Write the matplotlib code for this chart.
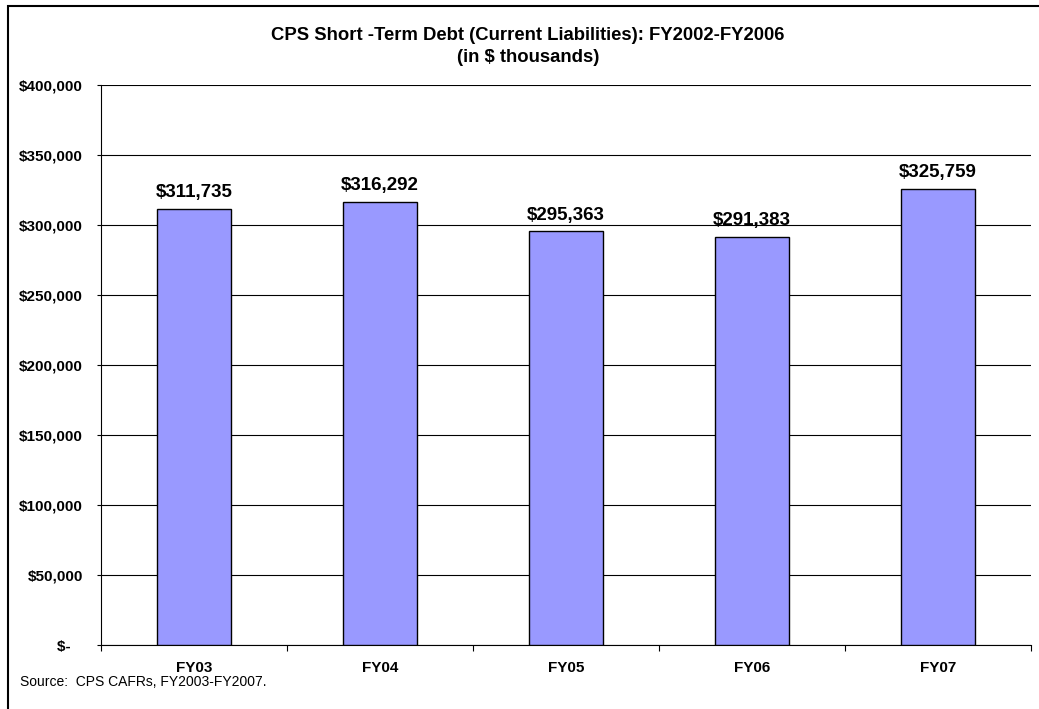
import matplotlib.pyplot as plt
from matplotlib.patches import Rectangle
from matplotlib.ticker import FuncFormatter

plt.rcParams["font.family"] = ["Liberation Sans", "DejaVu Sans"]

years = ["FY03", "FY04", "FY05", "FY06", "FY07"]
debt = [311735, 316292, 295363, 291383, 325759]
yticks = [0, 50000, 100000, 150000, 200000, 250000, 300000, 350000, 400000]

W, H = 1039, 709
fig = plt.figure(figsize=(W / 100, H / 100), dpi=100)
ax = fig.add_axes([101 / W, 1 - 645 / H, (1031 - 101) / W, (645 - 85) / H])

x = range(len(years))
ax.bar(x, debt, width=0.4, color="#9999FF", edgecolor="black", linewidth=1, zorder=3)
for xi, v in zip(x, debt):
    ax.text(xi, v + 5500, f"${v:,}", ha="center", va="bottom",
            fontsize=13.5, fontweight="bold")

ax.set_xlim(-0.5, len(years) - 0.5)
ax.set_ylim(0, 400000)
ax.set_yticks(yticks)
# accounting style: zero shown as "$-" with some trailing padding
ax.yaxis.set_major_formatter(
    FuncFormatter(lambda v, p: "$-   " if v == 0 else f"${v:,.0f}"))
ax.grid(axis="y", color="black", linewidth=0.8, zorder=0)

ax.set_xticks(list(x))
ax.set_xticklabels(years, fontsize=11, fontweight="bold")
ax.set_xticks([i - 0.5 for i in range(len(years) + 1)], minor=True)
ax.tick_params(axis="x", which="major", length=0, pad=11.5)
ax.tick_params(axis="x", which="minor", length=4, width=0.8, direction="out")
ax.tick_params(axis="y", length=3, width=0.8, pad=10)
for lbl in ax.get_yticklabels():
    lbl.set_fontweight("bold")
    lbl.set_fontsize(11)

ax.spines["top"].set_visible(False)
ax.spines["right"].set_visible(False)
ax.spines["left"].set_linewidth(0.8)
ax.spines["bottom"].set_linewidth(0.8)

fig.text(528 / W, 1 - 36 / H, "CPS Short -Term Debt (Current Liabilities): FY2002-FY2006",
         ha="center", va="center", fontsize=13.3, fontweight="bold")
fig.text(528 / W, 1 - 58 / H, "(in $ thousands)",
         ha="center", va="center", fontsize=13.3, fontweight="bold")
fig.text(20 / W, 1 - 682 / H, "Source:  CPS CAFRs, FY2003-FY2007.",
         ha="left", va="center", fontsize=10)

fig.patches.append(Rectangle((8 / W, -0.1), 1.2, 1.1 - 6 / H, transform=fig.transFigure,
                             fill=False, edgecolor="black", linewidth=1.5))

fig.savefig("out.png", dpi=100)
